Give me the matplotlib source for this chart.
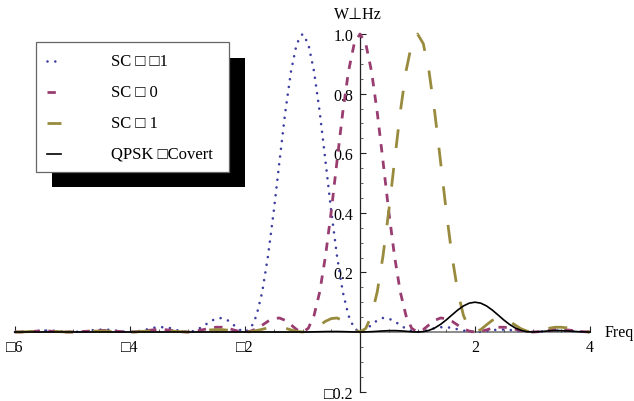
import numpy as np
import matplotlib
matplotlib.use("Agg")
import matplotlib.pyplot as plt
from matplotlib.lines import Line2D
from matplotlib.patches import Rectangle

plt.rcParams['font.family'] = ['Liberation Serif', 'DejaVu Sans']
plt.rcParams['lines.scale_dashes'] = False

# ---------------- data ----------------
freq = np.round(np.arange(-6.0, 4.0001, 0.1), 1)

sc_m1 = [0.000, 0.000, 0.002, 0.003, 0.004, 0.005, 0.005, 0.004, 0.002, 0.001,
         0.000, 0.001, 0.002, 0.005, 0.007, 0.008, 0.008, 0.006, 0.003, 0.001,
         0.000, 0.001, 0.005, 0.009, 0.014, 0.016, 0.016, 0.013, 0.007, 0.002,
         0.000, 0.003, 0.011, 0.023, 0.036, 0.045, 0.047, 0.039, 0.024, 0.008,
         0.000, 0.012, 0.055, 0.135, 0.255, 0.405, 0.573, 0.737, 0.875, 0.968,
         1.000, 0.968, 0.875, 0.737, 0.573, 0.405, 0.255, 0.135, 0.055, 0.012,
         0.000, 0.008, 0.024, 0.039, 0.047, 0.045, 0.036, 0.023, 0.011, 0.003,
         0.000, 0.002, 0.007, 0.013, 0.016, 0.016, 0.014, 0.009, 0.005, 0.001,
         0.000, 0.001, 0.003, 0.006, 0.008, 0.008, 0.007, 0.005, 0.002, 0.001,
         0.000, 0.001, 0.002, 0.004, 0.005, 0.005, 0.004, 0.003, 0.002, 0.000,
         0.000]

sc_0 = [0.000, 0.000, 0.001, 0.002, 0.003, 0.003, 0.003, 0.002, 0.001, 0.000,
        0.000, 0.000, 0.002, 0.003, 0.004, 0.005, 0.005, 0.004, 0.002, 0.001,
        0.000, 0.001, 0.002, 0.005, 0.007, 0.008, 0.008, 0.006, 0.003, 0.001,
        0.000, 0.001, 0.005, 0.009, 0.014, 0.016, 0.016, 0.013, 0.007, 0.002,
        0.000, 0.003, 0.011, 0.023, 0.036, 0.045, 0.047, 0.039, 0.024, 0.008,
        0.000, 0.012, 0.055, 0.135, 0.255, 0.405, 0.573, 0.737, 0.875, 0.968,
        1.000, 0.968, 0.875, 0.737, 0.573, 0.405, 0.255, 0.135, 0.055, 0.012,
        0.000, 0.008, 0.024, 0.039, 0.047, 0.045, 0.036, 0.023, 0.011, 0.003,
        0.000, 0.002, 0.007, 0.013, 0.016, 0.016, 0.014, 0.009, 0.005, 0.001,
        0.000, 0.001, 0.003, 0.006, 0.008, 0.008, 0.007, 0.005, 0.002, 0.001,
        0.000]

sc_p1 = [0.000, 0.000, 0.001, 0.002, 0.002, 0.002, 0.002, 0.002, 0.001, 0.000,
         0.000, 0.000, 0.001, 0.002, 0.003, 0.003, 0.003, 0.002, 0.001, 0.000,
         0.000, 0.000, 0.002, 0.003, 0.004, 0.005, 0.005, 0.004, 0.002, 0.001,
         0.000, 0.001, 0.002, 0.005, 0.007, 0.008, 0.008, 0.006, 0.003, 0.001,
         0.000, 0.001, 0.005, 0.009, 0.014, 0.016, 0.016, 0.013, 0.007, 0.002,
         0.000, 0.003, 0.011, 0.023, 0.036, 0.045, 0.047, 0.039, 0.024, 0.008,
         0.000, 0.012, 0.055, 0.135, 0.255, 0.405, 0.573, 0.737, 0.875, 0.968,
         1.000, 0.968, 0.875, 0.737, 0.573, 0.405, 0.255, 0.135, 0.055, 0.012,
         0.000, 0.008, 0.024, 0.039, 0.047, 0.045, 0.036, 0.023, 0.011, 0.003,
         0.000, 0.002, 0.007, 0.013, 0.016, 0.016, 0.014, 0.009, 0.005, 0.001,
         0.000]

qpsk_covert = [0.0, 0.0, 0.0, 0.0, 0.0, 0.0, 0.0, 0.0, 0.0, 0.0,
               0.0, 0.0, 0.0, 0.0, 0.0, 0.0, 0.0, 0.0, 0.0, 0.0,
               0.0, 0.0, 0.0, 0.0, 0.0, 0.0, 0.0, 0.0, 0.0, 0.0,
               0.0, 0.0, 0.0, 0.0, 0.0, 0.0, 0.0, 0.0, 0.0, 0.0,
               0.0, 0.0, 0.0, 0.0, 0.0, 0.0, 0.0, 0.0, 0.0, 0.0,
               0.0, 0.0, 0.0005, 0.0009, 0.0014, 0.0016, 0.0016, 0.0013, 0.0007, 0.0002,
               0.0, 0.0003, 0.0011, 0.0023, 0.0036, 0.0045, 0.0047, 0.0039, 0.0024, 0.0008,
               0.0, 0.0012, 0.0055, 0.0135, 0.0255, 0.0405, 0.0573, 0.0737, 0.0875, 0.0968,
               0.1000, 0.0968, 0.0875, 0.0737, 0.0573, 0.0405, 0.0255, 0.0135, 0.0055, 0.0012,
               0.0, 0.0008, 0.0024, 0.0039, 0.0047, 0.0045, 0.0036, 0.0023, 0.0011, 0.0003,
               0.0]

series_labels = ["SC \u25a1 \u25a11", "SC \u25a1 0", "SC \u25a1 1", "QPSK \u25a1Covert"]
x_tick_vals = [-6, -4, -2, 2, 4]
x_tick_labels = ["\u25a16", "\u25a14", "\u25a12", "2", "4"]
y_tick_vals = [-0.2, 0.2, 0.4, 0.6, 0.8, 1.0]
y_tick_labels = ["\u25a10.2", "0.2", "0.4", "0.6", "0.8", "1.0"]
x_label = "Freq"
y_label = "W\u22a5Hz"

# ---------------- styles ----------------
W, H = 634, 402
styles = [
    dict(color="#3d3da0", lw=1.9, linestyle=(0, (0.01, 5.6)), dash_capstyle="round", solid_capstyle="round"),
    dict(color="#993d71", lw=2.0, linestyle=(0, (6.0, 6.0))),
    dict(color="#998b3d", lw=2.0, linestyle=(0, (13.5, 14.5))),
    dict(color="black", lw=1.2, linestyle="-"),
]

fig = plt.figure(figsize=(W / 100, H / 100), dpi=100)
ax = fig.add_axes([15 / W, (H - 392.6) / H, 575 / W, 357.6 / H])
ax.set_xlim(-6, 4)
ax.set_ylim(-0.2, 1.0)

for data, st in zip([sc_m1, sc_0, sc_p1, qpsk_covert], styles):
    ax.plot(freq, data, clip_on=False, zorder=3, **st)

for s in ["top", "right"]:
    ax.spines[s].set_visible(False)
ax.spines["left"].set_position(("data", 0))
ax.spines["bottom"].set_position(("data", 0))
ax.spines["left"].set_color("#222222")
ax.spines["bottom"].set_color("#8a8a8a")
ax.spines["left"].set_linewidth(0.9)
ax.spines["bottom"].set_linewidth(1.4)
ax.spines["left"].set_zorder(1)
ax.spines["bottom"].set_zorder(1)

ax.set_xticks(x_tick_vals)
ax.set_xticklabels(x_tick_labels)
ax.set_xticks(np.arange(-6, 4.01, 0.5), minor=True)
ax.set_yticks(y_tick_vals)
ax.set_yticklabels(y_tick_labels)
ax.set_yticks(np.arange(-0.2, 1.001, 0.05), minor=True)
ax.tick_params(axis="both", which="major", direction="in", length=4, width=0.8,
               labelsize=11.5, colors="#222222", labelcolor="black")
ax.tick_params(axis="both", which="minor", direction="in", length=2.2, width=0.6, colors="#444444")
ax.tick_params(axis="x", which="major", pad=5)
ax.tick_params(axis="y", which="major", pad=5)
ax.patch.set_visible(False)

fig.text(605 / W, 1 - 333 / H, x_label, fontsize=11.5, ha="left", va="center")
fig.text(358 / W, 1 - 15 / H, y_label, fontsize=11.5, ha="center", va="center")

# ---------------- legend with drop shadow ----------------
def fx(px):
    return px / W

def fy(py):
    return 1 - py / H

fig.patches.append(Rectangle((fx(52), fy(188)), (245 - 52) / W, (188 - 59) / H,
                             transform=fig.transFigure, facecolor="black",
                             edgecolor="none", zorder=5))
fig.patches.append(Rectangle((fx(36), fy(173)), (229 - 36) / W, (173 - 43) / H,
                             transform=fig.transFigure, facecolor="white",
                             edgecolor="#666666", lw=0.9, zorder=6))
rows = [62, 93, 124, 155]
for lab, st, ry in zip(series_labels, styles, rows):
    ln = Line2D([fx(47), fx(61)], [fy(ry), fy(ry)], transform=fig.transFigure, zorder=7, **st)
    fig.lines.append(ln)
    fig.text(fx(111), fy(ry), lab, fontsize=12, ha="left", va="center", zorder=7)

fig.savefig("out.png", dpi=100)
